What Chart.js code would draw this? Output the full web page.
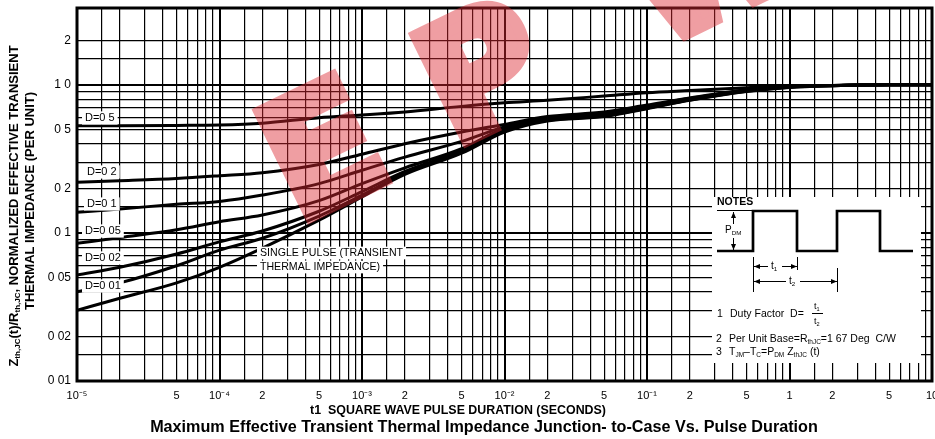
<!DOCTYPE html>
<html>
<head>
<meta charset="utf-8">
<script src="https://cdn.jsdelivr.net/npm/chart.js@4.4.1/dist/chart.umd.min.js"></script>
<style>
    html, body { margin: 0; padding: 0; background: #fff; }
    #wrap { width: 935px; height: 439px; }
</style>
</head>
<body>
<div id="wrap"><canvas id="grafico" width="935" height="439"></canvas></div>
<script>
// Durações de pulso (s) onde as curvas foram lidas
const pulseTimes = [1e-5, 2e-5, 5e-5, 1e-4, 2e-4, 5e-4, 1e-3, 2e-3, 5e-3, 1e-2, 2e-2, 5e-2, 0.1, 0.2, 0.5, 1, 2, 5, 10];

// Impedância normalizada, uma lista por fator de serviço
const zD05    = [0.53, 0.53, 0.532, 0.535, 0.55, 0.60, 0.625, 0.655, 0.715, 0.755, 0.785, 0.84, 0.885, 0.915, 0.955, 0.98, 0.99, 1.0, 1.0];
const zD02    = [0.220, 0.225, 0.233, 0.243, 0.255, 0.29, 0.34, 0.40, 0.48, 0.54, 0.61, 0.655, 0.73, 0.815, 0.925, 0.975, 0.99, 1.0, 1.0];
const zD01    = [0.138, 0.145, 0.156, 0.163, 0.18, 0.215, 0.265, 0.325, 0.415, 0.52, 0.60, 0.645, 0.72, 0.81, 0.92, 0.972, 0.99, 1.0, 1.0];
const zD005   = [0.085, 0.093, 0.105, 0.119, 0.132, 0.165, 0.215, 0.275, 0.37, 0.51, 0.59, 0.63, 0.71, 0.80, 0.915, 0.968, 0.988, 1.0, 1.0];
const zD002   = [0.052, 0.0586, 0.072, 0.087, 0.103, 0.14, 0.19, 0.26, 0.36, 0.50, 0.58, 0.62, 0.70, 0.795, 0.91, 0.965, 0.987, 1.0, 1.0];
const zD001   = [0.040, 0.046, 0.060, 0.0765, 0.092, 0.13, 0.18, 0.252, 0.35, 0.49, 0.575, 0.615, 0.695, 0.79, 0.905, 0.962, 0.986, 1.0, 1.0];
const zSingle = [0.030, 0.0362, 0.046, 0.0586, 0.079, 0.122, 0.175, 0.248, 0.345, 0.48, 0.57, 0.61, 0.69, 0.785, 0.90, 0.96, 0.985, 1.0, 1.0];

// Rótulos dos eixos
const xTickLabels = [
    [1e-5, '10⁻⁵'], [5e-5, '5'], [1e-4, '10⁻⁴'], [2e-4, '2'], [5e-4, '5'],
    [1e-3, '10⁻³'], [2e-3, '2'], [5e-3, '5'], [1e-2, '10⁻²'], [2e-2, '2'], [5e-2, '5'],
    [0.1, '10⁻¹'], [0.2, '2'], [0.5, '5'], [1, '1'], [2, '2'], [5, '5'], [10, '10']
];
const yTickLabels = [
    [0.01, '0 01'], [0.02, '0 02'], [0.05, '0 05'], [0.1, '0 1'],
    [0.2, '0 2'], [0.5, '0 5'], [1, '1 0'], [2, '2']
];
const gridMantissas = [1, 1.5, 2, 3, 4, 5, 6, 7, 8, 9];
const xDecades = [1e-5, 1e-4, 1e-3, 1e-2, 1e-1, 1];
const yDecades = [0.01, 0.1];

// Linhas de grade (1; 1,5; 2 ... 9 por década)
function buildGrid(decades, last, extra) {
    const out = [];
    decades.forEach(d => gridMantissas.forEach(m => out.push(+(m * d).toPrecision(3))));
    out.push(last);
    return out.concat(extra || []);
}
const xGrid = buildGrid(xDecades, 10);
const yGrid = buildGrid(yDecades, 1, [1.5, 2]);

function sameValue(a, b) {
    return Math.abs(Math.log10(a) - Math.log10(b)) < 1e-6;
}
function labelFor(list, v) {
    const hit = list.find(p => sameValue(p[0], v));
    return hit ? hit[1] : '';
}
function isDecade(v) {
    const l = Math.log10(v);
    return Math.abs(l - Math.round(l)) < 1e-6;
}

const FONT = '"Liberation Sans", Arial, Helvetica, sans-serif';

// Texto com subscritos: partes = [[texto, ehSub], ...]
function richWidth(ctx, parts, size, bold) {
    let w = 0;
    parts.forEach(([t, sub]) => {
        ctx.font = (bold ? 'bold ' : '') + (sub ? size * 0.62 : size) + 'px ' + FONT;
        w += ctx.measureText(t).width;
    });
    return w;
}
function richText(ctx, parts, x, y, size, bold) {
    let cx = x;
    ctx.textBaseline = 'middle';
    ctx.textAlign = 'left';
    parts.forEach(([t, sub]) => {
        ctx.font = (bold ? 'bold ' : '') + (sub ? size * 0.62 : size) + 'px ' + FONT;
        ctx.fillText(t, cx, sub ? y + size * 0.3 : y);
        cx += ctx.measureText(t).width;
    });
    return cx - x;
}
function fittedText(ctx, text, cx, cy, width, bold) {
    ctx.font = (bold ? 'bold ' : '') + '20px ' + FONT;
    const size = 20 * width / ctx.measureText(text).width;
    ctx.font = (bold ? 'bold ' : '') + size.toFixed(2) + 'px ' + FONT;
    ctx.textAlign = 'center';
    ctx.textBaseline = 'middle';
    ctx.fillText(text, cx, cy);
}
function boxedLabel(ctx, text, x, y, size) {
    ctx.font = size + 'px ' + FONT;
    const w = ctx.measureText(text).width;
    ctx.fillStyle = '#fff';
    ctx.fillRect(x - 3, y - size * 0.6, w + 6, size * 1.2);
    ctx.fillStyle = '#000';
    ctx.textAlign = 'left';
    ctx.textBaseline = 'middle';
    ctx.fillText(text, x, y);
}

// Títulos, rótulos das curvas, moldura e quadro de notas
const annotationsPlugin = {
    id: 'annotations',
    afterDatasetsDraw(chart) {
        const ctx = chart.ctx;
        const a = chart.chartArea;
        ctx.save();
        ctx.fillStyle = '#000';
        ctx.strokeStyle = '#000';

        // rótulos das curvas
        boxedLabel(ctx, 'D=0 5', 85, 118, 11);
        boxedLabel(ctx, 'D=0 2', 87, 172, 11);
        boxedLabel(ctx, 'D=0 1', 87, 204, 11);
        boxedLabel(ctx, 'D=0 05', 85, 231, 11);
        boxedLabel(ctx, 'D=0 02', 85, 258, 11);
        boxedLabel(ctx, 'D=0 01', 85, 286, 11);
        boxedLabel(ctx, 'SINGLE PULSE (TRANSIENT', 260, 253, 10.6);
        boxedLabel(ctx, 'THERMAL IMPEDANCE)', 260, 267, 10.6);

        // quadro de notas
        ctx.fillStyle = '#fff';
        ctx.fillRect(712, 197, 209, 166);
        ctx.fillStyle = '#000';
        ctx.font = 'bold 10.5px ' + FONT;
        ctx.textAlign = 'left';
        ctx.textBaseline = 'middle';
        ctx.fillText('NOTES', 717, 202);

        ctx.lineWidth = 1;
        ctx.beginPath();
        ctx.moveTo(717, 210.5); ctx.lineTo(752, 210.5);
        ctx.stroke();

        ctx.lineWidth = 2.7;
        ctx.beginPath();
        ctx.moveTo(717, 251); ctx.lineTo(753, 251); ctx.lineTo(753, 211); ctx.lineTo(797, 211);
        ctx.lineTo(797, 251); ctx.lineTo(837, 251); ctx.lineTo(837, 211); ctx.lineTo(880, 211);
        ctx.lineTo(880, 251); ctx.lineTo(913, 251);
        ctx.stroke();

        // seta P_DM
        ctx.lineWidth = 1;
        ctx.beginPath();
        ctx.moveTo(733.5, 212); ctx.lineTo(733.5, 224);
        ctx.moveTo(733.5, 238); ctx.lineTo(733.5, 250);
        ctx.stroke();
        ctx.beginPath();
        ctx.moveTo(733.5, 212); ctx.lineTo(731, 218); ctx.lineTo(736, 218); ctx.closePath();
        ctx.moveTo(733.5, 250); ctx.lineTo(731, 244); ctx.lineTo(736, 244); ctx.closePath();
        ctx.fill();
        richText(ctx, [['P', false], ['DM', true]], 725, 230, 10, false);

        // cotas t1 e t2
        ctx.beginPath();
        ctx.moveTo(753.5, 257); ctx.lineTo(753.5, 292);
        ctx.moveTo(797.5, 257); ctx.lineTo(797.5, 270);
        ctx.moveTo(837.5, 268); ctx.lineTo(837.5, 292);
        ctx.moveTo(754, 266.5); ctx.lineTo(768, 266.5);
        ctx.moveTo(782, 266.5); ctx.lineTo(797, 266.5);
        ctx.moveTo(754, 281.5); ctx.lineTo(786, 281.5);
        ctx.moveTo(800, 281.5); ctx.lineTo(837, 281.5);
        ctx.stroke();
        ctx.beginPath();
        [[754, 266.5, 1], [797, 266.5, -1], [754, 281.5, 1], [837, 281.5, -1]].forEach(([x, y, d]) => {
            ctx.moveTo(x, y); ctx.lineTo(x + 6 * d, y - 2.5); ctx.lineTo(x + 6 * d, y + 2.5); ctx.closePath();
        });
        ctx.fill();
        richText(ctx, [['t', false], ['1', true]], 771, 266, 10, false);
        richText(ctx, [['t', false], ['2', true]], 789, 281, 10, false);

        // notas numeradas
        const ns = 10.5;
        richText(ctx, [['1', false]], 717, 314, ns, false);
        richText(ctx, [['Duty Factor  D=', false]], 730, 314, ns, false);
        richText(ctx, [['t', false], ['1', true]], 814, 307, 9, false);
        ctx.lineWidth = 1;
        ctx.beginPath(); ctx.moveTo(812, 313.5); ctx.lineTo(823, 313.5); ctx.stroke();
        richText(ctx, [['t', false], ['2', true]], 814, 322, 9, false);
        richText(ctx, [['2', false]], 716, 339, ns, false);
        richText(ctx, [['Per Unit Base=R', false], ['thJC', true], ['=1 67 Deg  C/W', false]], 729, 339, ns, false);
        richText(ctx, [['3', false]], 716, 352, ns, false);
        richText(ctx, [['T', false], ['JM', true], ['\u2013T', false], ['C', true], ['=P', false], ['DM', true],
                       [' Z', false], ['thJC', true], [' (t)', false]], 729, 352, ns, false);

        // moldura da área do gráfico
        ctx.lineWidth = 3;
        ctx.strokeRect(a.left, a.top, a.right - a.left, a.bottom - a.top);

        // títulos
        fittedText(ctx, 't1  SQUARE WAVE PULSE DURATION (SECONDS)', 458, 411, 296, true);
        fittedText(ctx, 'Maximum Effective Transient Thermal Impedance Junction- to-Case Vs. Pulse Duration', 484, 428, 668, true);

        const line1 = [['Z', false], ['th,JC', true], ['(t)/R', false], ['th,JC', true], [', NORMALIZED EFFECTIVE TRANSIENT', false]];
        const line2 = [['THERMAL IMPEDANCE (PER UNIT)', false]];
        [[line1, 14, 206], [line2, 30, 201]].forEach(([parts, x, y]) => {
            ctx.save();
            ctx.translate(x, y);
            ctx.rotate(-Math.PI / 2);
            const w = richWidth(ctx, parts, 13, true);
            richText(ctx, parts, -w / 2, 0, 13, true);
            ctx.restore();
        });
        ctx.restore();
    },
    afterDraw(chart) {
        // marca d'água vermelha: letras opacas num canvas auxiliar, depois compostas com transparência
        const off = document.createElement('canvas');
        off.width = chart.width;
        off.height = chart.height;
        const o = off.getContext('2d');
        o.translate(292, 226);
        o.rotate(-26 * Math.PI / 180);
        o.font = 'bold 160px "DejaVu Sans", sans-serif';
        o.fillStyle = '#dc2832';
        o.strokeStyle = '#dc2832';
        o.lineWidth = 12;
        o.lineJoin = 'miter';
        o.textBaseline = 'alphabetic';
        [['E', 6], ['P', 180], ['W', 405]].forEach(([letra, dx]) => {
            o.fillText(letra, dx, 0);
            o.strokeText(letra, dx, 0);
        });
        const ctx = chart.ctx;
        ctx.save();
        ctx.globalAlpha = 0.45;
        ctx.drawImage(off, 0, 0);
        ctx.restore();
    }
};

function makeSeries(values) {
    return {
        data: pulseTimes.map((t, i) => ({ x: t, y: values[i] })),
        borderColor: '#000',
        borderWidth: 3,
        pointRadius: 0,
        fill: false,
        cubicInterpolationMode: 'monotone'
    };
}

const ctx = document.getElementById('grafico').getContext('2d');
new Chart(ctx, {
    type: 'line',
    data: {
        datasets: [zD05, zD02, zD01, zD005, zD002, zD001, zSingle].map(makeSeries)
    },
    options: {
        responsive: false,
        animation: false,
        devicePixelRatio: 1,
        layout: { padding: { left: 0, right: 3, top: 8, bottom: 0 } },
        plugins: {
            legend: { display: false },
            tooltip: { enabled: false },
            title: { display: false }
        },
        scales: {
            x: {
                type: 'logarithmic',
                min: 1e-5,
                max: 10,
                afterBuildTicks: scale => { scale.ticks = xGrid.map(v => ({ value: v })); },
                afterFit: scale => { scale.height = 58; scale.paddingLeft = 0; scale.paddingRight = 0; },
                grid: {
                    color: '#000',
                    lineWidth: c => (c.tick && isDecade(c.tick.value)) ? 2 : 1.2,
                    drawTicks: false
                },
                border: { display: false },
                ticks: {
                    autoSkip: false,
                    maxRotation: 0,
                    padding: 8,
                    color: '#000',
                    font: { family: FONT, size: 11 },
                    callback: v => labelFor(xTickLabels, v)
                }
            },
            y: {
                type: 'logarithmic',
                min: 0.01,
                max: 3.3,
                afterBuildTicks: scale => { scale.ticks = yGrid.map(v => ({ value: v })); },
                afterFit: scale => { scale.width = 77; scale.paddingTop = 0; scale.paddingBottom = 0; },
                grid: {
                    color: '#000',
                    lineWidth: c => (c.tick && isDecade(c.tick.value)) ? 2 : 1.2,
                    drawTicks: false
                },
                border: { display: false },
                ticks: {
                    autoSkip: false,
                    padding: 6,
                    color: '#000',
                    font: { family: FONT, size: 12 },
                    callback: v => labelFor(yTickLabels, v)
                }
            }
        }
    },
    plugins: [annotationsPlugin]
});
</script>
</body>
</html>
